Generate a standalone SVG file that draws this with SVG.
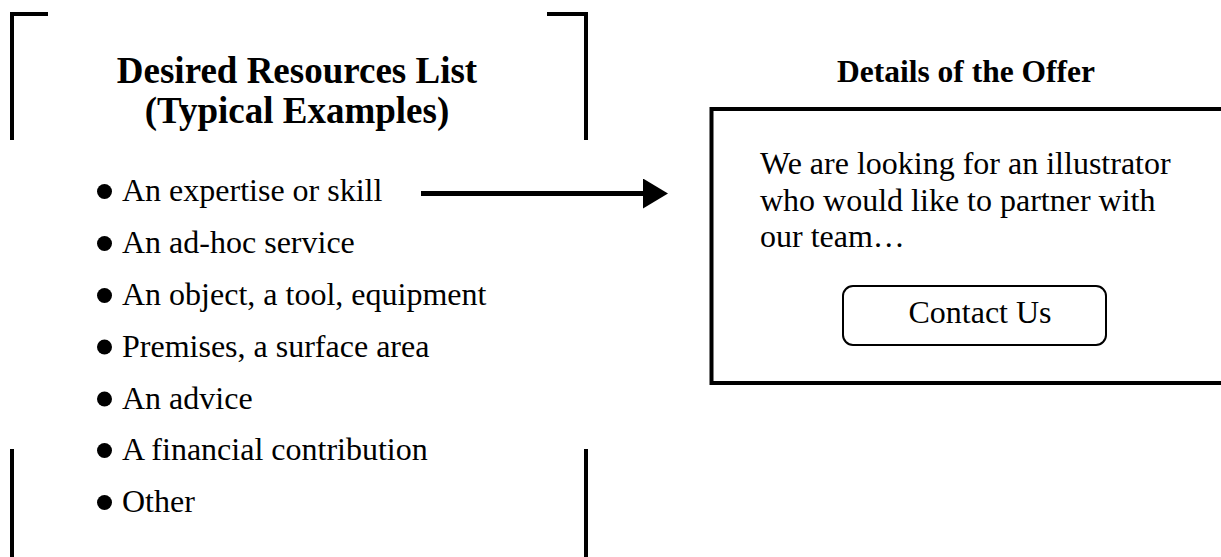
<svg xmlns="http://www.w3.org/2000/svg" width="1221" height="557" viewBox="0 0 1221 557">
  <style>
    .bracket { fill: none; stroke: #000; stroke-width: 4; }
    .title { font-family: "Liberation Serif", "Times New Roman", serif; font-weight: bold; fill: #000; text-anchor: middle; }
    .item { font-family: "Liberation Serif", "Times New Roman", serif; font-size: 32px; fill: #000; }
    .body { font-family: "Liberation Serif", "Times New Roman", serif; font-size: 32px; fill: #000; }
    .box { fill: #fff; stroke: #000; stroke-width: 4; }
    .btn { fill: #fff; stroke: #000; stroke-width: 2; }
    .bullet { fill: #000; }
  </style>
  <defs>
    <marker id="arrowhead" markerWidth="26" markerHeight="30" refX="0" refY="15" orient="auto" markerUnits="userSpaceOnUse">
      <polygon points="0,0 25,15 0,30" fill="#000"/>
    </marker>
  </defs>
  <rect width="1221" height="557" fill="#fff"/>

  <g id="resources-list">
    <path class="bracket" d="M48,14 H12 V140"/>
    <path class="bracket" d="M547,14 H586 V140"/>
    <path class="bracket" d="M12,449 V557"/>
    <path class="bracket" d="M586,449 V557"/>
    <text class="title" x="297" y="83" font-size="37">Desired Resources List</text>
    <text class="title" x="297" y="123" font-size="37">(Typical Examples)</text>
    <circle class="bullet" cx="104.5" cy="191.5" r="7.5"/>
    <text class="item" x="122" y="201">An expertise or skill</text>
    <circle class="bullet" cx="104.5" cy="243.5" r="7.5"/>
    <text class="item" x="122" y="253">An ad-hoc service</text>
    <circle class="bullet" cx="104.5" cy="295.5" r="7.5"/>
    <text class="item" x="122" y="305">An object, a tool, equipment</text>
    <circle class="bullet" cx="104.5" cy="347" r="7.5"/>
    <text class="item" x="122" y="356.5">Premises, a surface area</text>
    <circle class="bullet" cx="104.5" cy="399" r="7.5"/>
    <text class="item" x="122" y="408.5">An advice</text>
    <circle class="bullet" cx="104.5" cy="450.5" r="7.5"/>
    <text class="item" x="122" y="460">A financial contribution</text>
    <circle class="bullet" cx="104.5" cy="502.5" r="7.5"/>
    <text class="item" x="122" y="512">Other</text>
  </g>

  <g id="connectors">
    <line x1="421" y1="193.5" x2="643" y2="193.5" stroke="#000" stroke-width="5" marker-end="url(#arrowhead)"/>
  </g>

  <g id="offer-details">
    <text class="title" x="966" y="82" font-size="31.5">Details of the Offer</text>
    <rect class="box" x="711.5" y="109" width="520" height="274"/>
    <text class="body" x="760" y="174">We are looking for an illustrator</text>
    <text class="body" x="760" y="211">who would like to partner with</text>
    <text class="body" x="760" y="247">our team…</text>
    <g id="contact-button">
      <rect class="btn" x="843" y="286" width="263" height="59" rx="10"/>
      <text class="body" x="980" y="323" text-anchor="middle">Contact Us</text>
    </g>
  </g>
</svg>
